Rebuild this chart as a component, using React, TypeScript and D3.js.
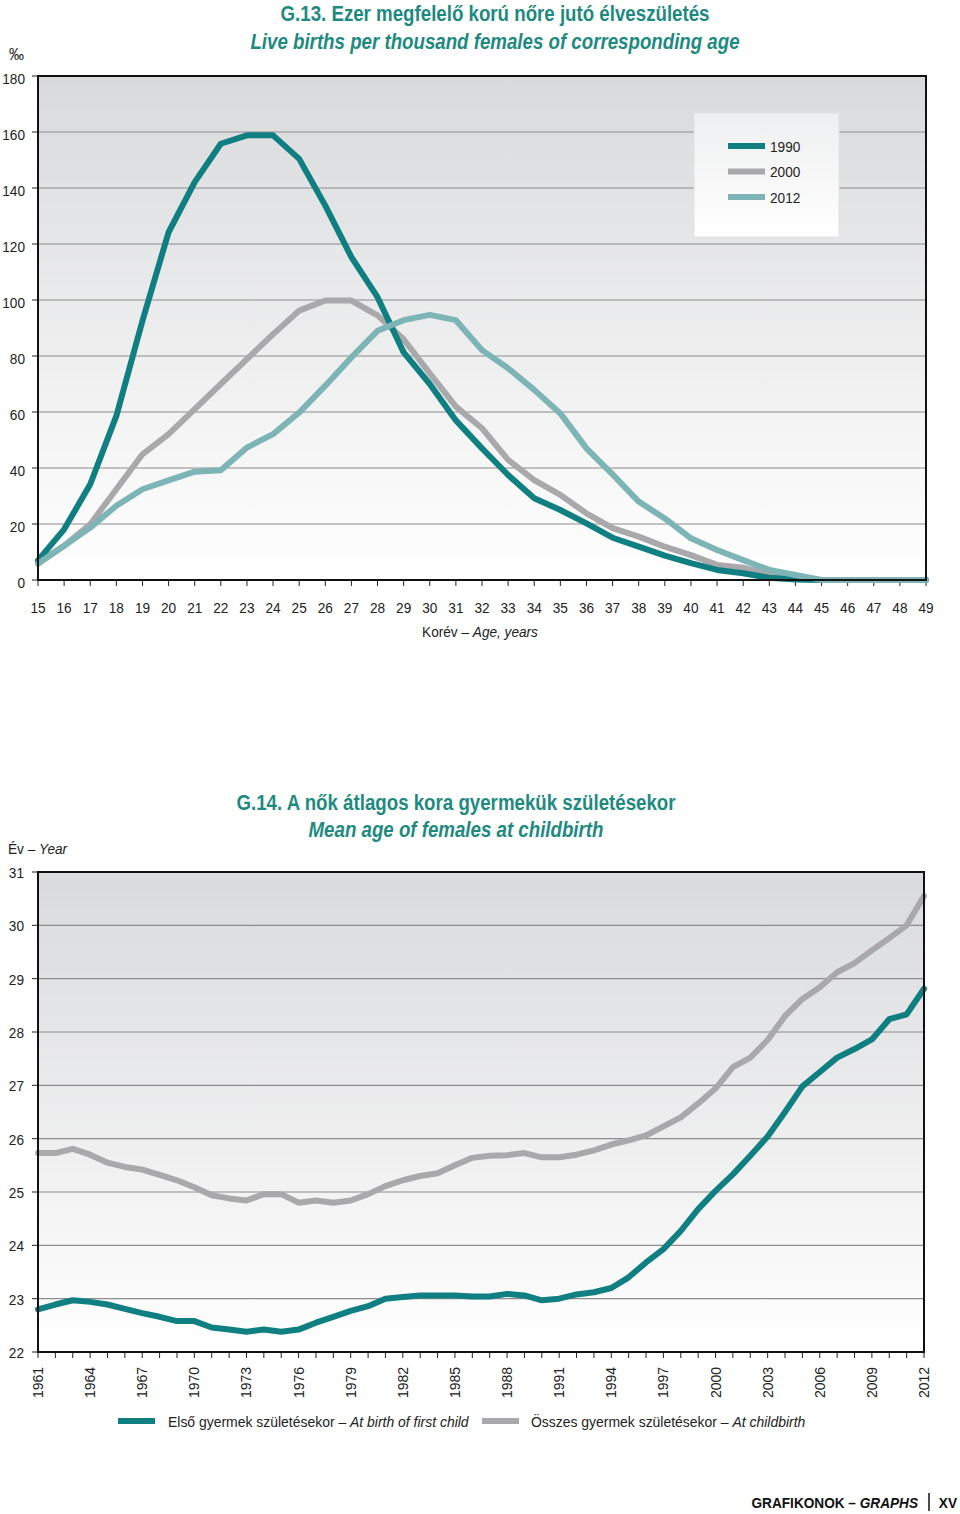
import React from "react";
import * as d3 from "d3";

const ages = [15,16,17,18,19,20,21,22,23,24,25,26,27,28,29,30,31,32,33,34,35,36,37,38,39,40,41,42,43,44,45,46,47,48,49];
const births1990 = [7.0,18.1,34.2,58.6,92.6,124.2,142.1,155.8,158.8,158.8,150.4,133.7,115.3,101.0,81.3,70.0,57.0,47.0,37.5,29.2,25.0,20.2,15.1,11.9,8.7,6.0,3.6,2.4,0.8,0.2,0,0,0,0,0];
const births2000 = [6.2,12.2,19.9,32.4,44.9,52.1,61.0,70.0,78.9,87.8,96.2,99.8,99.8,94.5,86.0,73.8,61.9,54.2,42.9,35.7,30.4,23.8,18.5,15.5,11.9,8.9,5.4,4.4,2.0,0.6,0,0,0,0,0];
const births2012 = [5.8,12.2,18.7,26.5,32.4,35.6,38.7,39.2,47.3,52.1,59.8,69.4,79.5,89.0,92.8,94.7,92.8,82.1,75.6,67.9,59.5,47.0,37.7,28.0,22.0,14.9,10.7,7.1,3.6,1.8,0,0,0,0,0];
const yTicks1 = [0,20,40,60,80,100,120,140,160,180];
const series1Names = ["1990","2000","2012"];

const years = [1961,1962,1963,1964,1965,1966,1967,1968,1969,1970,1971,1972,1973,1974,1975,1976,1977,1978,1979,1980,1981,1982,1983,1984,1985,1986,1987,1988,1989,1990,1991,1992,1993,1994,1995,1996,1997,1998,1999,2000,2001,2002,2003,2004,2005,2006,2007,2008,2009,2010,2011,2012];
const firstChild = [22.80,22.89,22.97,22.94,22.89,22.81,22.73,22.66,22.58,22.58,22.46,22.42,22.38,22.42,22.38,22.42,22.55,22.66,22.77,22.86,23.00,23.03,23.06,23.06,23.06,23.04,23.04,23.09,23.06,22.97,23.00,23.08,23.12,23.20,23.40,23.68,23.93,24.27,24.68,25.02,25.33,25.68,26.04,26.50,26.98,27.25,27.52,27.68,27.86,28.24,28.33,28.81];
const allChildren = [25.73,25.73,25.81,25.70,25.55,25.47,25.42,25.32,25.22,25.09,24.94,24.88,24.84,24.96,24.96,24.80,24.84,24.80,24.84,24.96,25.11,25.22,25.30,25.35,25.50,25.64,25.68,25.69,25.73,25.65,25.65,25.70,25.78,25.89,25.97,26.06,26.23,26.40,26.66,26.94,27.34,27.52,27.85,28.30,28.62,28.84,29.12,29.29,29.53,29.76,30.00,30.55];
const yTicks2 = [22,23,24,25,26,27,28,29,30,31];
const yearLabels = [1961,1964,1967,1970,1973,1976,1979,1982,1985,1988,1991,1994,1997,2000,2003,2006,2009,2012];

const DARK = "#0f7f81";
const GRAY = "#a9a9ab";
const LIGHT = "#7db4b5";
const TITLE = "#1e8a7f";
const FONT = "'Liberation Sans', Arial, sans-serif";

type TProps = {
  x: number; y: number; sx?: number; anchor?: "start" | "middle" | "end";
  size?: number; weight?: string; italic?: boolean; fill?: string; children: React.ReactNode;
};
function T({ x, y, sx = 0.88, anchor = "start", size = 15.5, weight = "normal", italic = false, fill = "#222", children }: TProps) {
  return (
    <g transform={`translate(${x},${y}) scale(${sx},1)`}>
      <text x={0} y={0} textAnchor={anchor} fontSize={size} fontWeight={weight} fontStyle={italic ? "italic" : "normal"} fill={fill}>
        {children}
      </text>
    </g>
  );
}

export default function App() {
  const x1 = d3.scaleLinear().domain([15, 49]).range([38, 926]);
  const y1 = d3.scaleLinear().domain([0, 180]).range([580, 76]);
  const x2 = d3.scaleLinear().domain([1961, 2012]).range([38, 924]);
  const y2 = d3.scaleLinear().domain([22, 31]).range([1352, 872]);

  const line1 = (vals: number[]) =>
    d3.line<number>().x((_, i) => x1(ages[i])).y((d) => y1(d))(vals) || "";
  const line2 = (vals: number[]) =>
    d3.line<number>().x((_, i) => x2(years[i])).y((d) => y2(d))(vals) || "";

  const s1 = [
    { name: series1Names[0], vals: births1990, color: DARK },
    { name: series1Names[1], vals: births2000, color: GRAY },
    { name: series1Names[2], vals: births2012, color: LIGHT },
  ];
  const drawOrder = [1, 0, 2];

  return (
    <svg width={960} height={1514} style={{ position: "absolute", left: 0, top: 0 }} fontFamily={FONT}>
      <defs>
        <linearGradient id="bg" x1="0" y1="0" x2="0" y2="1">
          <stop offset="0" stopColor="#d9dadc" />
          <stop offset="1" stopColor="#ffffff" />
        </linearGradient>
        <linearGradient id="lg" x1="0" y1="0" x2="0" y2="1">
          <stop offset="0" stopColor="#eeeff0" />
          <stop offset="1" stopColor="#ffffff" />
        </linearGradient>
      </defs>
      <rect x={0} y={0} width={960} height={1514} fill="#fff" />

      {/* Chart 1 */}
      <T x={495} y={21} anchor="middle" size={22} weight="bold" fill={TITLE} sx={0.85}>G.13. Ezer megfelelő korú nőre jutó élveszületés</T>
      <T x={495} y={49} anchor="middle" size={22} weight="bold" italic fill={TITLE} sx={0.85}>Live births per thousand females of corresponding age</T>
      <T x={9} y={60} size={17}>‰</T>

      <rect x={x1(15)} y={y1(180)} width={x1(49) - x1(15)} height={y1(0) - y1(180)} fill="url(#bg)" />
      {yTicks1.filter((t) => t > 0 && t < 180).map((t) => (
        <line key={t} x1={x1(15)} x2={x1(49)} y1={y1(t)} y2={y1(t)} stroke="#8c8c8c" strokeWidth={1.2} />
      ))}
      {yTicks1.map((t) => (
        <g key={"yt" + t}>
          <line x1={x1(15) - 6} x2={x1(15)} y1={y1(t)} y2={y1(t)} stroke="#222" strokeWidth={1} />
          <T x={25} y={y1(t) + 8} anchor="end">{t}</T>
        </g>
      ))}
      {ages.map((a) => (
        <g key={"xt" + a}>
          <line x1={x1(a)} x2={x1(a)} y1={y1(0)} y2={y1(0) + 6} stroke="#222" strokeWidth={1} />
          <T x={x1(a)} y={613} anchor="middle">{a}</T>
        </g>
      ))}
      <T x={480} y={637} anchor="middle">
        Korév – <tspan fontStyle="italic">Age, years</tspan>
      </T>

      {drawOrder.map((i) => (
        <path key={"s1" + i} d={line1(s1[i].vals)} fill="none" stroke={s1[i].color} strokeWidth={6} strokeLinejoin="round" strokeLinecap="round" />
      ))}
      <rect x={x1(15)} y={y1(180)} width={x1(49) - x1(15)} height={y1(0) - y1(180)} fill="none" stroke="#111" strokeWidth={2} />

      <rect x={694} y={113} width={145} height={124} fill="url(#lg)" stroke="#e2e2e2" strokeWidth={1} />
      {s1.map((s, i) => (
        <g key={"lg" + i}>
          <line x1={728} x2={765} y1={146 + i * 25.5} y2={146 + i * 25.5} stroke={s.color} strokeWidth={6} />
          <T x={770} y={151.5 + i * 25.5}>{s.name}</T>
        </g>
      ))}

      {/* Chart 2 */}
      <T x={456} y={810} anchor="middle" size={22} weight="bold" fill={TITLE} sx={0.85}>G.14. A nők átlagos kora gyermekük születésekor</T>
      <T x={456} y={837} anchor="middle" size={22} weight="bold" italic fill={TITLE} sx={0.85}>Mean age of females at childbirth</T>
      <T x={8} y={854}>
        Év – <tspan fontStyle="italic">Year</tspan>
      </T>

      <rect x={x2(1961)} y={y2(31)} width={x2(2012) - x2(1961)} height={y2(22) - y2(31)} fill="url(#bg)" />
      {yTicks2.filter((t) => t > 22 && t < 31).map((t) => (
        <line key={"g2" + t} x1={x2(1961)} x2={x2(2012)} y1={y2(t)} y2={y2(t)} stroke="#8c8c8c" strokeWidth={1.2} />
      ))}
      {yTicks2.map((t) => (
        <g key={"yt2" + t}>
          <line x1={x2(1961) - 6} x2={x2(1961)} y1={y2(t)} y2={y2(t)} stroke="#222" strokeWidth={1} />
          <T x={24} y={y2(t) + 6} anchor="end">{t}</T>
        </g>
      ))}
      {years.map((yr) => (
        <line key={"xt2" + yr} x1={x2(yr)} x2={x2(yr)} y1={y2(22)} y2={y2(22) + 6} stroke="#222" strokeWidth={1} />
      ))}
      {yearLabels.map((yr) => (
        <text key={"yl" + yr} transform={`translate(${x2(yr) + 5},1398) rotate(-90)`} fontSize={14} fill="#222">{yr}</text>
      ))}

      <path d={line2(allChildren)} fill="none" stroke={GRAY} strokeWidth={6} strokeLinejoin="round" strokeLinecap="round" />
      <path d={line2(firstChild)} fill="none" stroke={DARK} strokeWidth={6} strokeLinejoin="round" strokeLinecap="round" />
      <rect x={x2(1961)} y={y2(31)} width={x2(2012) - x2(1961)} height={y2(22) - y2(31)} fill="none" stroke="#111" strokeWidth={2} />

      <line x1={118} x2={155} y1={1421} y2={1421} stroke={DARK} strokeWidth={6} />
      <T x={168} y={1427} sx={0.9}>
        Első gyermek születésekor – <tspan fontStyle="italic">At birth of first child</tspan>
      </T>
      <line x1={482} x2={519} y1={1421} y2={1421} stroke={GRAY} strokeWidth={6} />
      <T x={531} y={1427} sx={0.9}>
        Összes gyermek születésekor – <tspan fontStyle="italic">At childbirth</tspan>
      </T>

      {/* Footer */}
      <T x={918} y={1508} anchor="end" weight="bold" fill="#111">
        GRAFIKONOK – <tspan fontStyle="italic">GRAPHS</tspan>
      </T>
      <line x1={929} x2={929} y1={1493} y2={1511} stroke="#111" strokeWidth={1.5} />
      <T x={957} y={1508} anchor="end" weight="bold" fill="#111">XV</T>
    </svg>
  );
}
